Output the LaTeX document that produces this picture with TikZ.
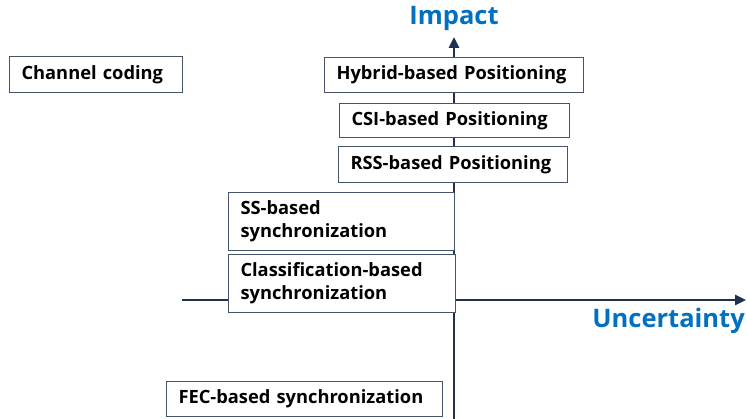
\documentclass[tikz,border=0pt]{standalone}
\usepackage{fontspec}
\setmainfont{Open Sans}
\usetikzlibrary{arrows.meta}
\definecolor{axisc}{HTML}{1F3050}
\definecolor{boxc}{HTML}{44546A}
\definecolor{labc}{HTML}{0070C0}
\tikzset{
  box/.style={draw=boxc, fill=white, line width=1pt, inner xsep=12pt, inner ysep=0pt,
    anchor=north west, align=left, font=\bfseries\fontsize{18.3}{23}\selectfont, text=black},
  axis/.style={draw=axisc, line width=2.6pt, -{Triangle[length=11pt,width=10pt]}},
  lab/.style={text=labc, font=\bfseries\fontsize{25.5}{28}\selectfont, inner sep=0pt}
}
\begin{document}
\begin{tikzpicture}[x=1pt,y=-1pt]
\useasboundingbox (0,0) rectangle (747,419);
\coordinate (vb) at (454,419);
\coordinate (vt) at (454,37);
\coordinate (hl) at (182,300);
\coordinate (hr) at (746,300);
\draw[axis] (vb) -- (vt);
\draw[axis] (hl) -- (hr);
\node[lab, anchor=base] (impact) at (454,25) {Impact};
\node[lab, anchor=base east] (unc) at (745,328) {Uncertainty};
\node[box, text width=173-24, minimum height=36] (cc) at (9,56) {Channel coding};
\node[box, text width=259-24, minimum height=35] (hy) at (324,57) {Hybrid-based Positioning};
\node[box, text width=230-24, minimum height=34] (csi) at (339,103) {CSI-based Positioning};
\node[box, text width=229-24, minimum height=36] (rss) at (338,146) {RSS-based Positioning};
\node[box, text width=226-24, minimum height=58] (ss) at (228,192) {SS-based\\synchronization};
\node[box, text width=227-24, minimum height=58] (cls) at (228,254) {Classification-based\\synchronization};
\node[box, text width=276-24, minimum height=35] (fec) at (166,381) {FEC-based synchronization};
\end{tikzpicture}
\end{document}
